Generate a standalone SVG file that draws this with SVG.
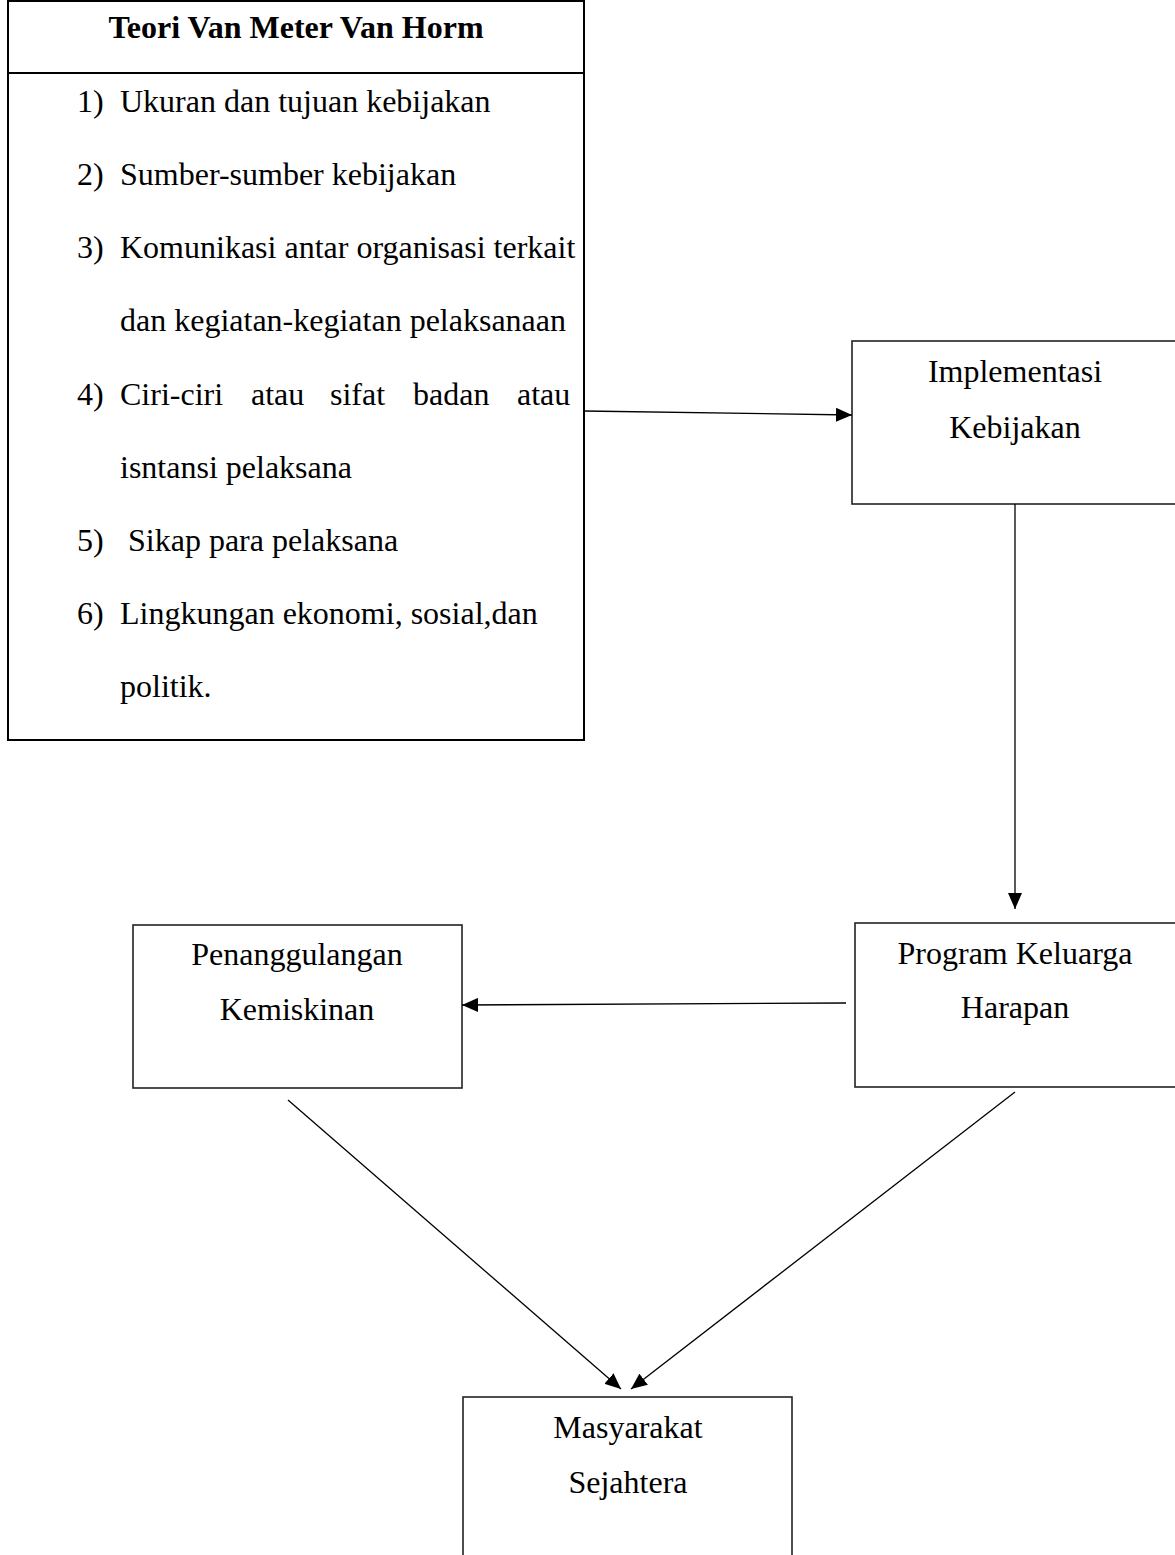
<svg xmlns="http://www.w3.org/2000/svg" width="1175" height="1555" viewBox="0 0 1175 1555">
<style>
text{font-family:"Liberation Serif","Times New Roman",serif;font-size:32px;fill:#000}
.b{font-weight:bold}
.c{text-anchor:middle}
.box{fill:#fff;stroke:#222;stroke-width:1.6}
.main{fill:#fff;stroke:#000;stroke-width:2}
.ln{stroke:#000;stroke-width:1.3;fill:none}
</style>
<defs>
<marker id="ah2" viewBox="0 0 16 14" refX="16" refY="7" markerWidth="16" markerHeight="14" markerUnits="userSpaceOnUse" orient="auto">
<path d="M0,0 L16,7 L0,14 Z" fill="#000"/>
</marker>
</defs>
<g id="theory">
<rect class="main" x="8" y="1" width="576" height="739"/>
<line x1="8" y1="73" x2="584" y2="73" stroke="#000" stroke-width="2"/>
<text class="b c" x="296" y="38">Teori Van Meter Van Horm</text>
<text x="77" y="112">1)</text><text x="120" y="112">Ukuran dan tujuan kebijakan</text>
<text x="77" y="185">2)</text><text x="120" y="185">Sumber-sumber kebijakan</text>
<text x="77" y="258">3)</text><text x="120" y="258">Komunikasi antar organisasi terkait</text>
<text x="120" y="331">dan kegiatan-kegiatan pelaksanaan</text>
<text x="77" y="405">4)</text><text y="405"><tspan x="120">Ciri-ciri</tspan><tspan x="251">atau</tspan><tspan x="330">sifat</tspan><tspan x="413">badan</tspan><tspan x="517">atau</tspan></text>
<text x="120" y="478">isntansi pelaksana</text>
<text x="77" y="551">5)</text><text x="128" y="551">Sikap para pelaksana</text>
<text x="77" y="624">6)</text><text x="120" y="624">Lingkungan ekonomi, sosial,dan</text>
<text x="120" y="697">politik.</text>
</g>
<g id="implementasi">
<rect class="box" x="852" y="341" width="330" height="163"/>
<text class="c" x="1015" y="382">Implementasi</text>
<text class="c" x="1015" y="438">Kebijakan</text>
</g>
<g id="pkh">
<rect class="box" x="855" y="923" width="330" height="164"/>
<text class="c" x="1015" y="964">Program Keluarga</text>
<text class="c" x="1015" y="1018">Harapan</text>
</g>
<g id="penanggulangan">
<rect class="box" x="133" y="925" width="329" height="163"/>
<text class="c" x="297" y="965">Penanggulangan</text>
<text class="c" x="297" y="1020">Kemiskinan</text>
</g>
<g id="masyarakat">
<rect class="box" x="463" y="1397" width="329" height="170"/>
<text class="c" x="628" y="1438">Masyarakat</text>
<text class="c" x="628" y="1493">Sejahtera</text>
</g>
<g id="connectors">
<line class="ln" x1="584" y1="411" x2="852" y2="415" marker-end="url(#ah2)"/>
<line class="ln" x1="1015" y1="504" x2="1015" y2="909" marker-end="url(#ah2)"/>
<line class="ln" x1="846" y1="1003" x2="462" y2="1005" marker-end="url(#ah2)"/>
<line class="ln" x1="288" y1="1100" x2="621" y2="1389" marker-end="url(#ah2)"/>
<line class="ln" x1="1015" y1="1092" x2="631" y2="1389" marker-end="url(#ah2)"/>
</g>
</svg>
